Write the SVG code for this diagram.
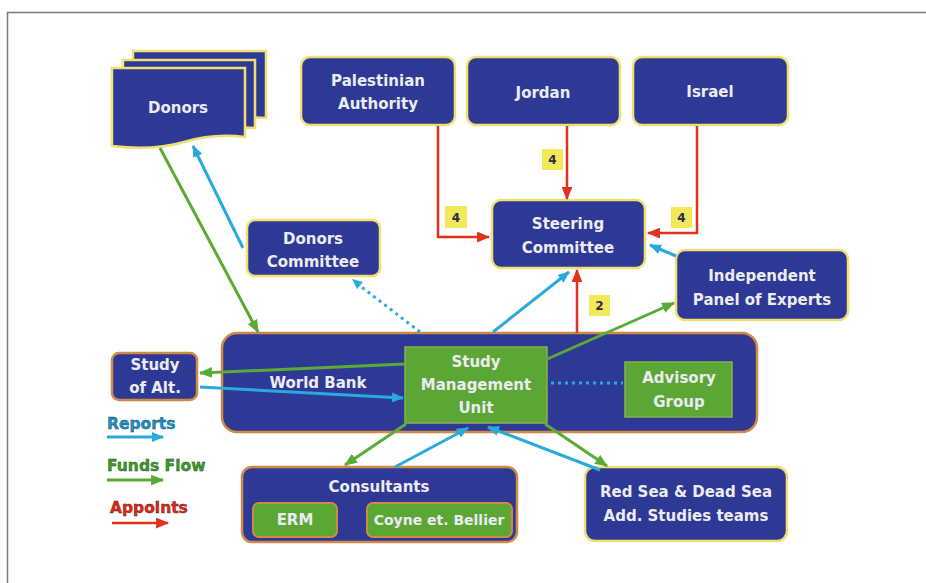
<svg xmlns="http://www.w3.org/2000/svg" width="926" height="583" viewBox="0 0 926 583">
  <defs>
    <marker id="ah-blue" viewBox="0 0 12 10" refX="11" refY="5" markerWidth="12" markerHeight="10" markerUnits="userSpaceOnUse" orient="auto">
      <path d="M0,0 L12,5 L0,10 Z" fill="#2aa9dc"/>
    </marker>
    <marker id="ah-green" viewBox="0 0 12 10" refX="11" refY="5" markerWidth="13" markerHeight="11" markerUnits="userSpaceOnUse" orient="auto">
      <path d="M0,0 L12,5 L0,10 Z" fill="#5aab36"/>
    </marker>
    <marker id="ah-red" viewBox="0 0 12 10" refX="11" refY="5" markerWidth="13" markerHeight="11" markerUnits="userSpaceOnUse" orient="auto">
      <path d="M0,0 L12,5 L0,10 Z" fill="#e2321c"/>
    </marker>
  </defs>
  <style>
    .node { fill: #2e3995; stroke: #f2df72; stroke-width: 2.5; }
    .node-o { fill: #2e3995; stroke: #d08a46; stroke-width: 2.5; }
    .inner { fill: #5ba634; stroke: #8ab04a; stroke-width: 1.5; }
    .inner-o { fill: #5ba634; stroke: #d08a46; stroke-width: 2; }
    .t { font-family: "DejaVu Sans", "Liberation Sans", sans-serif; font-weight: bold; font-size: 15px; fill: #ebebf2; text-anchor: middle; }
    .tag { fill: #f2e85a; }
    .tagt { font-family: "DejaVu Sans", sans-serif; font-weight: bold; font-size: 12px; fill: #2a2a50; text-anchor: middle; }
    .blue { stroke: #2aa9dc; stroke-width: 3; fill: none; marker-end: url(#ah-blue); }
    .green { stroke: #5aab36; stroke-width: 3; fill: none; marker-end: url(#ah-green); }
    .red { stroke: #e2321c; stroke-width: 2.5; fill: none; marker-end: url(#ah-red); }
    .dot { stroke: #2aa9dc; stroke-width: 3; fill: none; stroke-dasharray: 3 4; }
    .leg { font-family: "DejaVu Sans", sans-serif; font-weight: bold; font-size: 15.5px; }
  </style>

  <rect width="926" height="583" fill="#ffffff"/>
  <!-- frame -->
  <path d="M7.5,583 V12.5 H926" fill="none" stroke="#7a7a7a" stroke-width="1.5"/>

  <g id="donors">
    <path class="node" d="M133,51 H266 V118 C245,116 230,119 215,124 L133,124 Z"/>
    <path class="node" d="M123,60 H255 V128 C235,126 220,129 205,134 L123,134 Z"/>
    <path class="node" d="M112,68 H245 V137 C222,134 204,136 184,142 C160,149 136,149 112,146 Z"/>
    <text class="t" x="178" y="113">Donors</text>
  </g>

  <g id="palestinian-authority">
    <rect class="node" x="301" y="57" width="154" height="68" rx="9"/>
    <text class="t" x="378" y="86">Palestinian</text>
    <text class="t" x="378" y="109">Authority</text>
  </g>

  <g id="jordan">
    <rect class="node" x="467" y="57" width="153" height="68" rx="9"/>
    <text class="t" x="543" y="98">Jordan</text>
  </g>

  <g id="israel">
    <rect class="node" x="633" y="57" width="155" height="68" rx="9"/>
    <text class="t" x="710" y="97">Israel</text>
  </g>

  <g id="steering-committee">
    <rect class="node" x="492" y="200" width="153" height="68" rx="9"/>
    <text class="t" x="568" y="229">Steering</text>
    <text class="t" x="568" y="253">Committee</text>
  </g>

  <g id="donors-committee">
    <rect class="node" x="247" y="220" width="133" height="56" rx="8"/>
    <text class="t" x="313" y="244">Donors</text>
    <text class="t" x="313" y="267">Committee</text>
  </g>

  <g id="independent-panel">
    <rect class="node" x="676" y="250" width="172" height="70" rx="9"/>
    <text class="t" x="762" y="281">Independent</text>
    <text class="t" x="762" y="305">Panel of Experts</text>
  </g>

  <g id="world-bank">
    <rect class="node-o" x="222" y="333" width="535" height="99" rx="15"/>
    <text class="t" x="318" y="388">World Bank</text>
  </g>

  <g id="study-management-unit">
    <rect class="inner" x="405" y="347" width="142" height="76"/>
    <text class="t" x="476" y="367">Study</text>
    <text class="t" x="476" y="390">Management</text>
    <text class="t" x="476" y="413">Unit</text>
  </g>

  <g id="advisory-group">
    <rect class="inner" x="625" y="362" width="107" height="55"/>
    <text class="t" x="679" y="383">Advisory</text>
    <text class="t" x="679" y="407">Group</text>
  </g>

  <g id="study-of-alt">
    <rect class="node-o" x="112" y="353" width="85" height="47" rx="7"/>
    <text class="t" x="155" y="370">Study</text>
    <text class="t" x="155" y="393">of Alt.</text>
  </g>

  <g id="consultants">
    <rect class="node-o" x="242" y="467" width="275" height="75" rx="10"/>
    <text class="t" x="379" y="492">Consultants</text>
    <g id="erm">
      <rect class="inner-o" x="253" y="503" width="84" height="34" rx="6"/>
      <text class="t" x="295" y="525">ERM</text>
    </g>
    <g id="coyne-et-bellier">
      <rect class="inner-o" x="367" y="503" width="145" height="34" rx="6"/>
      <text class="t" x="439" y="525" style="font-size:14px">Coyne et. Bellier</text>
    </g>
  </g>

  <g id="red-dead-sea-teams">
    <rect class="node" x="585" y="467" width="202" height="74" rx="10"/>
    <text class="t" x="686" y="497">Red Sea &amp; Dead Sea</text>
    <text class="t" x="686" y="521">Add. Studies teams</text>
  </g>

  <!-- connectors, drawn over the boxes they cross -->
  <g id="connectors">
    <!-- appoints -->
    <polyline class="red" points="438,126 438,237 489,237"/>
    <polyline class="red" points="567,126 567,199"/>
    <polyline class="red" points="697,126 697,233 648,233"/>
    <polyline class="red" points="577,333 577,270"/>
    <!-- reports -->
    <line class="blue" x1="243" y1="248" x2="193" y2="146"/>
    <line class="blue" x1="493" y1="332" x2="569" y2="272"/>
    <line class="blue" x1="676" y1="256" x2="650" y2="245"/>
    <line class="dot" x1="420" y1="332" x2="359" y2="285"/>
    <path d="M352,279 L363,282 L357,289 Z" fill="#2aa9dc"/>
    <line class="blue" x1="200" y1="387" x2="403" y2="398"/>
    <line class="blue" x1="395" y1="467" x2="468" y2="428"/>
    <line class="blue" x1="600" y1="470" x2="488" y2="427"/>
    <line class="dot" x1="551" y1="383" x2="623" y2="383"/>
    <!-- funds flow -->
    <line class="green" x1="160" y1="148" x2="258" y2="332"/>
    <line class="green" x1="405" y1="364" x2="200" y2="373"/>
    <line class="green" x1="545" y1="360" x2="674" y2="303"/>
    <line class="green" x1="406" y1="424" x2="345" y2="465"/>
    <line class="green" x1="545" y1="424" x2="607" y2="466"/>
  </g>

  <!-- count tags on appointment lines -->
  <g id="tags">
    <rect class="tag" x="445" y="206" width="22" height="22"/>
    <text class="tagt" x="456" y="222">4</text>
    <rect class="tag" x="542" y="149" width="21" height="21"/>
    <text class="tagt" x="552.5" y="164">4</text>
    <rect class="tag" x="671" y="207" width="21" height="21"/>
    <text class="tagt" x="681.5" y="222">4</text>
    <rect class="tag" x="589" y="295" width="21" height="21"/>
    <text class="tagt" x="599.5" y="310">2</text>
  </g>

  <!-- legend -->
  <g id="legend">
    <text class="leg" x="107" y="429" fill="#1f8fc4" stroke="#0d4c66" stroke-width="0.4">Reports</text>
    <line class="blue" x1="107" y1="437" x2="163" y2="437"/>
    <text class="leg" x="107" y="471" fill="#3f9a2e" stroke="#1d4d14" stroke-width="0.4">Funds Flow</text>
    <line class="green" x1="107" y1="480" x2="163" y2="480"/>
    <text class="leg" x="110" y="513" fill="#d82a1a" stroke="#6a140c" stroke-width="0.4">Appoints</text>
    <line class="red" x1="112" y1="523" x2="168" y2="523"/>
  </g>
</svg>
